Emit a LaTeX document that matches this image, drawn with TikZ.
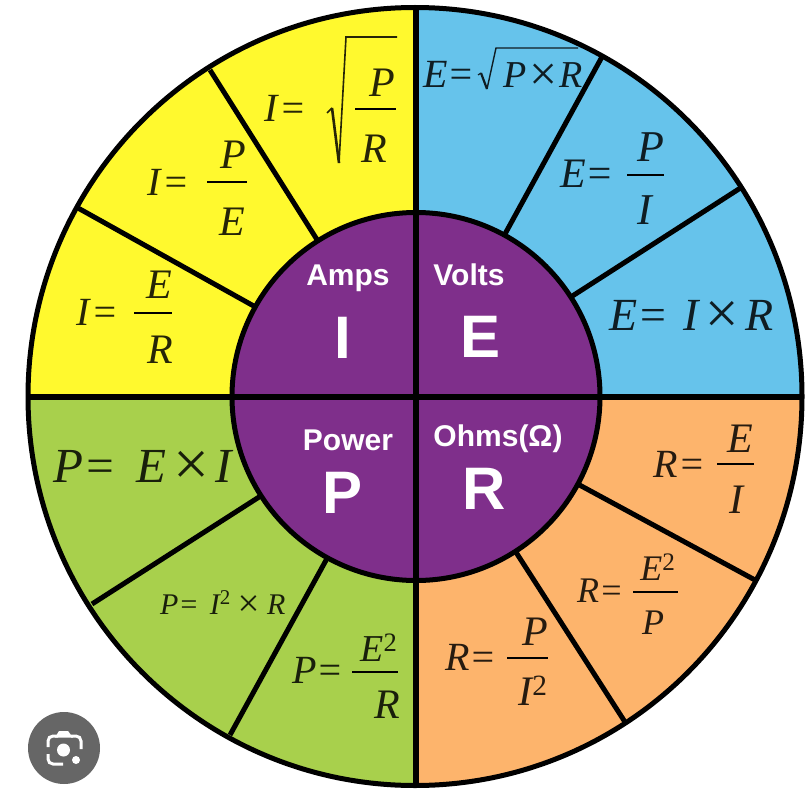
\documentclass[tikz,border=0pt]{standalone}
\usepackage{graphicx}
\usepackage{fontspec}
\setmainfont{Liberation Serif}
\setsansfont{Liberation Sans}
\usetikzlibrary{positioning}
\definecolor{ampyellow}{HTML}{FFF92E}
\definecolor{voltblue}{HTML}{66C3EB}
\definecolor{powergreen}{HTML}{A8D04C}
\definecolor{ohmorange}{HTML}{FDB46C}
\definecolor{hubpurple}{HTML}{7F2F8B}
\definecolor{iconfill}{HTML}{666666}
\newcommand{\fsize}[1]{\fontsize{#1}{#1}\selectfont}
\newcommand{\crossmark}{\raisebox{-0.07em}{\scalebox{1.3}{×}}}
\newcommand{\sqmark}{\textsuperscript{\upshape 2}}

\begin{document}
\begin{tikzpicture}[
    x=1pt, y=-1pt,
    formula/.style={anchor=base west, inner sep=0pt, font=\fsize{#1}\itshape},
    formula/.default=40,
    part/.style={anchor=base, inner sep=0pt, font=\fsize{#1}\itshape},
    part/.default=42,
    unitlabel/.style={anchor=base, inner sep=0pt, text=white, font=\fsize{30}\bfseries\sffamily},
    symlabel/.style={anchor=base, inner sep=0pt, text=white, font=\fsize{60}\bfseries\sffamily},
    spoke/.style={line width=5pt},
    bar/.style={line width=2pt},
  ]
  \def\cx{416}
  \def\cy{396.5}
  \def\rin{184}
  \useasboundingbox (0,0) rectangle (805,805);

  % ========= QUADRANTS =========
  \begin{scope}
    \clip (415,\cy) ellipse (387 and 389);
    \fill[ampyellow] (0,0) rectangle (\cx,\cy);
    \fill[voltblue] (\cx,0) rectangle (805,\cy);
    \fill[powergreen] (0,\cy) rectangle (\cx,805);
    \fill[ohmorange] (\cx,\cy) rectangle (805,805);
  \end{scope}

  % Spokes
  \foreach \ex/\ey in {603/55, 742/187, 755/580, 625/722, 230/735, 92/604, 78/208, 210/70}
    \draw[spoke] (\cx,\cy) -- (\ex,\ey);

  % Hub and cross
  \fill[hubpurple] (\cx,\cy) circle (\rin);
  \draw[line width=6pt] (\cx,7.5) -- (\cx,785.5);
  \draw[line width=6pt] (28.5,\cy) -- (801.5,\cy);
  \draw[spoke] (\cx,\cy) circle (\rin);
  \draw[spoke] (415,\cy) ellipse (387 and 389);

  % Hub labels
  \node[unitlabel] (amps) at (348,285) {Amps};
  \node[unitlabel] (volts) at (469,285) {Volts};
  \node[unitlabel] (power) at (348,450) {Power};
  \node[unitlabel] (ohms) at (498,446) {Ohms(Ω)};
  \node[symlabel] (symi) at (343,358) {I};
  \node[symlabel] (syme) at (481,357) {E};
  \node[symlabel] (symp) at (343,513) {P};
  \node[symlabel] (symr) at (484,509) {R};

  % ========= AMPS =========
  \begin{scope}[text=black!85!ampyellow]
    \node[formula] (ione) at (264,122) {I\kern2pt=};
    \draw[black!85!ampyellow, line width=1.6pt] (327,113) -- (332,108);
    \draw[black!85!ampyellow, line width=2.6pt] (332,108) -- (339,163);
    \draw[black!85!ampyellow, line width=1.6pt] (339,163) -- (346,37) -- (397,37);
    \node[part] (ionep) at (382,97) {P};
    \draw[bar] (355,109) -- (396,109);
    \node[part] (ioner) at (374,163) {R};

    \node[formula] (itwo) at (147,195) {I\kern2pt=};
    \node[part] (itwop) at (233,168) {P};
    \draw[bar] (207,182) -- (247,182);
    \node[part] (itwoe) at (232,235) {E};

    \node[formula] (ithree) at (76,325) {I\kern2pt=};
    \node[part] (ithreee) at (159,298) {E};
    \draw[bar] (134,313) -- (172,313);
    \node[part] (ithreer) at (160,363) {R};
  \end{scope}

  % ========= VOLTS =========
  \begin{scope}[text=black!85!voltblue]
    \node[formula] (eone) at (423,88) {E=};
    \draw[black!85!voltblue, line width=1.2pt] (478,75) -- (481,73);
    \draw[black!85!voltblue, line width=2.2pt] (481,73) -- (487,89);
    \draw[black!85!voltblue, line width=1.4pt] (487,89) -- (496,48) -- (578,48);
    \node[formula=38] (eoner) at (503,88) {P\crossmark R};

    \node[formula=42] (etwo) at (560,187) {E=};
    \node[part=44] (etwop) at (651,162) {P};
    \draw[bar] (627,175) -- (664,175);
    \node[part=44] (etwoi) at (645,224) {I};

    \node[formula=46] (ethree) at (609,330) {E=\kern15pt I\kern3pt\crossmark\kern3pt R};
  \end{scope}

  % ========= POWER =========
  \begin{scope}[text=black!85!powergreen]
    \node[formula=49] (pone) at (53,482) {P=\kern20pt E\kern3pt\crossmark\kern3pt I};
    \node[formula=30] (ptwo) at (160,614) {P=\kern11pt I\sqmark\kern5pt\crossmark\kern5pt R};

    \node[formula] (pthree) at (292,683) {P=};
    \node[part=38] (pthreee) at (379,661) {E\sqmark};
    \draw[bar] (352,672) -- (398,672);
    \node[part] (pthreer) at (387,718) {R};
  \end{scope}

  % ========= OHMS =========
  \begin{scope}[text=black!85!ohmorange]
    \node[formula] (rone) at (653,477) {R\kern1pt=};
    \node[part] (ronee) at (740,452) {E};
    \draw[bar] (717,464) -- (754,464);
    \node[part] (ronei) at (736,513) {I};

    \node[formula=36] (rtwo) at (577,602) {R=};
    \node[part=36] (rtwoe) at (658,580) {E\sqmark};
    \draw[bar] (633,592) -- (678,592);
    \node[part=36] (rtwop) at (653,634) {P};

    \node[formula] (rthree) at (445,670) {R=};
    \node[part] (rthreep) at (535,645) {P};
    \draw[bar] (507,658) -- (548,658);
    \node[part] (rthreei) at (533,705) {I\sqmark};
  \end{scope}

  % ========= LENS BADGE =========
  \fill[iconfill] (64,748) circle (36);
  \fill[white] (63.5,750) circle (6.5);
  \fill[white] (76,760) circle (4);
  \draw[white, line width=3pt, rounded corners=5pt] (48,747) -- (48,736) -- (58,736);
  \draw[white, line width=3pt, rounded corners=5pt] (71,736) -- (81,736) -- (81,749);
  \fill[white] (55,737.5) -- (59,731) -- (68,731) -- (73,737.5) -- cycle;
  \draw[white, line width=3pt, rounded corners=5pt] (48,754) -- (48,764) -- (63,764);
\end{tikzpicture}
\end{document}
